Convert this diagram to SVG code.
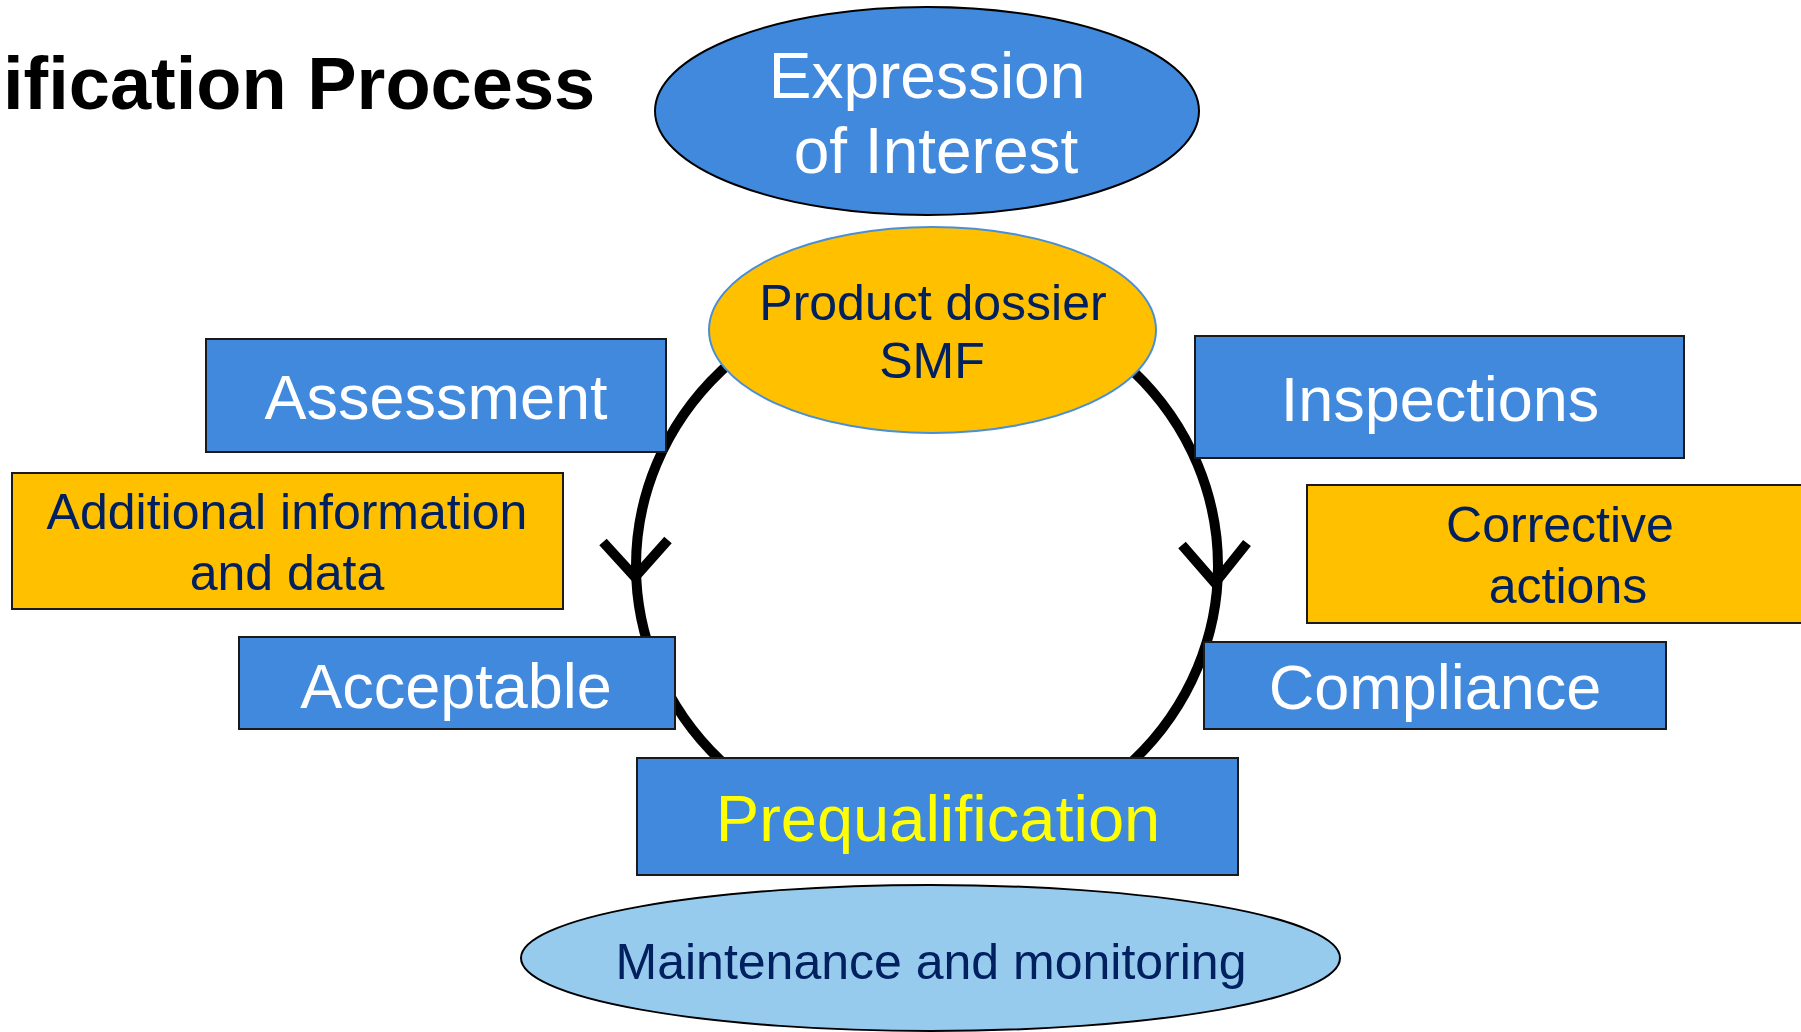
<svg xmlns="http://www.w3.org/2000/svg" width="1801" height="1032" viewBox="0 0 1801 1032">
  <style>
    .box { fill: #4189DD; stroke: #1a1a1a; stroke-width: 2; }
    .note { fill: #FFC000; stroke: #1a1a1a; stroke-width: 2; }
    .t { font-family: "Liberation Sans", Arial, sans-serif; text-anchor: middle; }
    .white { fill: #FFFFFF; font-size: 63px; }
    .navy { fill: #002060; font-size: 50px; }
    .cycle { fill: none; stroke: #000000; stroke-width: 10; }
    .chev { fill: none; stroke: #000000; stroke-width: 10; stroke-linejoin: miter; stroke-linecap: butt; }
  </style>
  <rect width="1801" height="1032" fill="#FFFFFF"/>

  <!-- heading -->
  <text x="3" y="109" font-family="Liberation Sans, Arial, sans-serif" font-weight="bold" font-size="74" fill="#000000">ification Process</text>

  <!-- cycle loop with direction chevrons -->
  <g id="connectors">
    <ellipse class="cycle" cx="927" cy="566" rx="291" ry="276"/>
    <polyline class="chev" points="603,542 635,577 668,540"/>
    <polyline class="chev" points="1182,545 1215,583 1247,543"/>
  </g>

  <g id="expression">
    <ellipse cx="927" cy="111" rx="272" ry="104" fill="#4189DD" stroke="#000000" stroke-width="2"/>
    <text class="t white" font-size="64" x="927" y="98" style="font-size:64px">Expression</text>
    <text class="t white" x="936" y="173" style="font-size:64px">of Interest</text>
  </g>

  <g id="dossier">
    <ellipse cx="932.5" cy="330" rx="223.5" ry="103" fill="#FFC000" stroke="#4A8FD6" stroke-width="2"/>
    <text class="t navy" x="933" y="320">Product dossier</text>
    <text class="t navy" x="932" y="378">SMF</text>
  </g>

  <g id="assessment">
    <rect class="box" x="206" y="339" width="460" height="113"/>
    <text class="t white" x="436" y="419">Assessment</text>
  </g>

  <g id="additional">
    <rect class="note" x="12" y="473" width="551" height="136"/>
    <text class="t navy" x="287" y="529">Additional information</text>
    <text class="t navy" x="287" y="590">and data</text>
  </g>

  <g id="acceptable">
    <rect class="box" x="239" y="637" width="436" height="92"/>
    <text class="t white" x="456" y="708">Acceptable</text>
  </g>

  <g id="inspections">
    <rect class="box" x="1195" y="336" width="489" height="122"/>
    <text class="t white" x="1440" y="421">Inspections</text>
  </g>

  <g id="corrective">
    <rect class="note" x="1307" y="485" width="510" height="138"/>
    <text class="t navy" x="1560" y="542">Corrective</text>
    <text class="t navy" x="1568" y="603">actions</text>
  </g>

  <g id="compliance">
    <rect class="box" x="1204" y="642" width="462" height="87"/>
    <text class="t white" x="1435" y="709">Compliance</text>
  </g>

  <g id="prequalification">
    <rect class="box" x="637" y="758" width="601" height="117"/>
    <text class="t" x="938" y="841" fill="#FFFF00" font-size="65">Prequalification</text>
  </g>

  <g id="maintenance">
    <ellipse cx="930.5" cy="958" rx="409.5" ry="73" fill="#97CBEE" stroke="#000000" stroke-width="2"/>
    <text class="t navy" x="931" y="979">Maintenance and monitoring</text>
  </g>
</svg>
